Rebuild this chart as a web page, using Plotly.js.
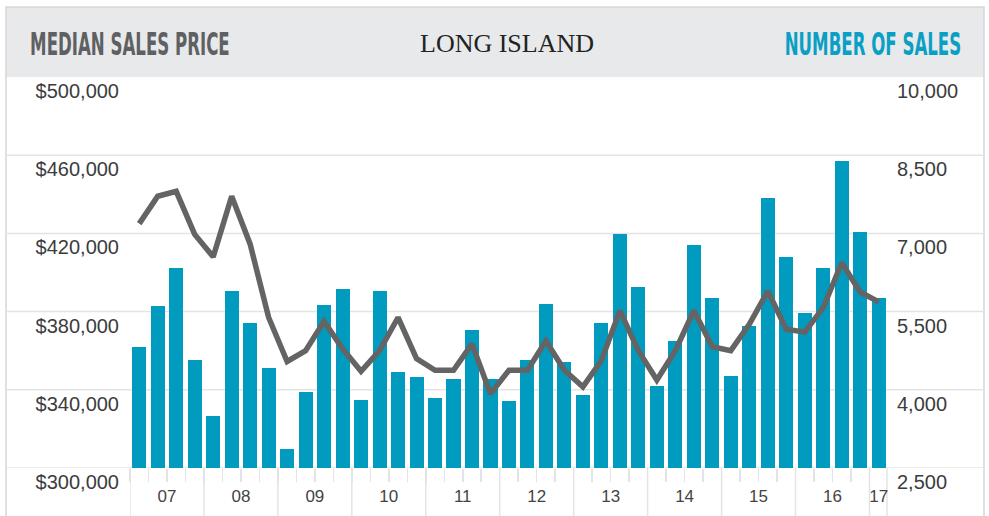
<!DOCTYPE html>
<html>
<head>
<meta charset="utf-8">
<script src="https://cdn.plot.ly/plotly-3.0.1.min.js"></script>
<style>
  html, body { margin: 0; padding: 0; background: #ffffff; }
  #chart { width: 989px; height: 516px; }
</style>
</head>
<body>
<div id="chart"></div>
<script>
// ---- data ----
const yearLabels = ['07','08','09','10','11','12','13','14','15','16','17'];
const quartersPerYear = 4;
// Number of sales, quarterly 2007 Q1 .. 2017 Q1
const salesCount = [4830, 5600, 6330, 4580, 3500, 5890, 5290, 4420, 2870, 3960,
                    5620, 5940, 3810, 5900, 4350, 4250, 3850, 4210, 5140, 4210,
                    3790, 4580, 5640, 4540, 3900, 5290, 6980, 5980, 4080, 4940,
                    6770, 5770, 4270, 5230, 7670, 6540, 5480, 6330, 8390, 7020, 5770];
// Median sales price, quarterly 2007 Q1 .. 2017 Q1
const medianPrice = [425000, 439000, 441500, 419500, 408000, 439000, 414500, 377000, 354500, 360000,
                     375000, 361000, 349500, 360000, 377000, 356000, 350000, 350000, 363500, 338000,
                     350000, 350000, 365000, 350000, 341500, 355000, 380500, 360000, 345000, 360000,
                     380500, 362000, 360000, 373500, 390500, 371000, 369500, 382000, 405000, 390000, 385000];
const priceTicks = [300000, 340000, 380000, 420000, 460000, 500000];
const countTicks = [2500, 4000, 5500, 7000, 8500, 10000];

// ---- derived ----
const idx = salesCount.map((_, i) => i);
const nQ = salesCount.length;
const yearCenters = yearLabels.map((_, i) => {
  const first = i * quartersPerYear;
  const last = Math.min(first + quartersPerYear - 1, nQ - 1);
  return (first + last) / 2;
});
const yearBounds = yearLabels.map((_, i) => i * quartersPerYear - 0.5);

const TEAL = '#019bc0';
const GREY = '#646464';
const GRID = '#e4e4e4';

const plotW = 989 - 130 - 102, plotH = 516 - 77 - 48;
const pxX = px => (px - 130) / plotW;
const pxY = py => (516 - 48 - py) / plotH;

const shapes = [];
// header box
shapes.push({type:'rect', xref:'paper', yref:'paper', x0:pxX(6), x1:pxX(984), y0:1, y1:pxY(7),
  fillcolor:'#e8e9eb', line:{width:0}, layer:'below'});
// outer frame
shapes.push({type:'rect', xref:'paper', yref:'paper', x0:pxX(6), x1:pxX(984), y0:pxY(530), y1:pxY(7),
  fillcolor:'rgba(0,0,0,0)', line:{color:'#d6d6d6', width:1.5}, layer:'below'});
// horizontal gridlines across full width
priceTicks.forEach(v => {
  if (v === priceTicks[priceTicks.length-1]) return;
  shapes.push({type:'line', xref:'paper', yref:'y2', x0:pxX(6), x1:pxX(984), y0:v, y1:v,
    line:{color:GRID, width:1.5}, layer:'below'});
});
// year dividers below axis
yearBounds.forEach(b => {
  shapes.push({type:'line', xref:'x', yref:'paper', x0:b, x1:b, y0:0, y1:pxY(530),
    line:{color:GRID, width:1.5}, layer:'below'});
});
shapes.push({type:'line', xref:'paper', yref:'paper', x0:1, x1:1, y0:0, y1:pxY(530),
  line:{color:GRID, width:1.5}, layer:'below'});

const headFont = '"Liberation Sans Narrow", "DejaVu Sans Condensed", "Arial Narrow", sans-serif';

const data = [
  {type:'bar', x: idx, y: salesCount, yaxis:'y', marker:{color:TEAL, line:{width:0}},
   width: 0.76, hoverinfo:'skip'},
  {type:'scatter', mode:'lines', x: idx, y: medianPrice, yaxis:'y2',
   line:{color:GREY, width:5.5, shape:'linear'}, hoverinfo:'skip'}
];

const tickFont = {family:'"Liberation Sans", Arial, sans-serif', size:20, color:'#3c3c3c'};

const layout = {
  width: 989, height: 516,
  margin: {l:130, r:102, t:77, b:48, pad:0},
  paper_bgcolor:'#ffffff', plot_bgcolor:'rgba(0,0,0,0)',
  showlegend:false,
  bargap:0,
  xaxis: {
    range:[-0.5, nQ - 1 + 0.45], showgrid:false, zeroline:false, showline:false,
    tickmode:'array', tickvals: yearCenters, ticktext: yearLabels, ticks:'',
    ticklabelstandoff: 16,
    tickfont:{family:'"Liberation Sans", Arial, sans-serif', size:17, color:'#444444'},
    minor:{tickmode:'linear', tick0:0.5, dtick:1, ticks:'outside', ticklen:13, tickwidth:1.5,
           tickcolor:GRID, showgrid:false},
    fixedrange:true
  },
  yaxis: {
    side:'right', range:[countTicks[0], countTicks[countTicks.length-1]],
    tickmode:'array', tickvals: countTicks, tickformat:',d',
    showgrid:false, zeroline:false, showline:false, ticks:'',
    ticklabelshift:14, ticklabelstandoff:9,
    tickfont: tickFont, fixedrange:true
  },
  yaxis2: {
    side:'left', overlaying:'y', range:[priceTicks[0], priceTicks[priceTicks.length-1]],
    tickmode:'array', tickvals: priceTicks, tickformat:'$,.0f',
    showgrid:false, zeroline:false, showline:false, ticks:'',
    ticklabelshift:14, ticklabelstandoff:10,
    tickfont: tickFont, fixedrange:true
  },
  shapes: shapes,
  annotations: [
    {text:'MEDIAN SALES PRICE', xref:'paper', yref:'paper', x:pxX(28), y:pxY(44),
     xanchor:'left', yanchor:'middle', showarrow:false,
     font:{family:headFont, size:22, color:'#5f6062', weight:700}},
    {text:'LONG ISLAND', xref:'paper', yref:'paper', x:pxX(507), y:pxY(43),
     xanchor:'center', yanchor:'middle', showarrow:false,
     font:{family:'"Liberation Serif", "Times New Roman", serif', size:26, color:'#222222'}},
    {text:'NUMBER OF SALES', xref:'paper', yref:'paper', x:pxX(963), y:pxY(44),
     xanchor:'right', yanchor:'middle', showarrow:false,
     font:{family:headFont, size:22, color:'#0a9fc4', weight:700}}
  ]
};

Plotly.newPlot('chart', data, layout, {displayModeBar:false, staticPlot:true}).then(gd => {
  // compress the header labels horizontally and stretch vertically, like the original display face
  gd.querySelectorAll('.annotation-text').forEach(t => {
    const s = t.textContent;
    if (s === 'MEDIAN SALES PRICE') {
      t.style.transformBox = 'fill-box';
      t.style.transformOrigin = 'left center';
      t.style.transform = 'scale(0.84, 1.45)';
    } else if (s === 'NUMBER OF SALES') {
      t.style.transformBox = 'fill-box';
      t.style.transformOrigin = 'right center';
      t.style.transform = 'scale(0.84, 1.45)';
    }
  });
});
</script>
</body>
</html>
